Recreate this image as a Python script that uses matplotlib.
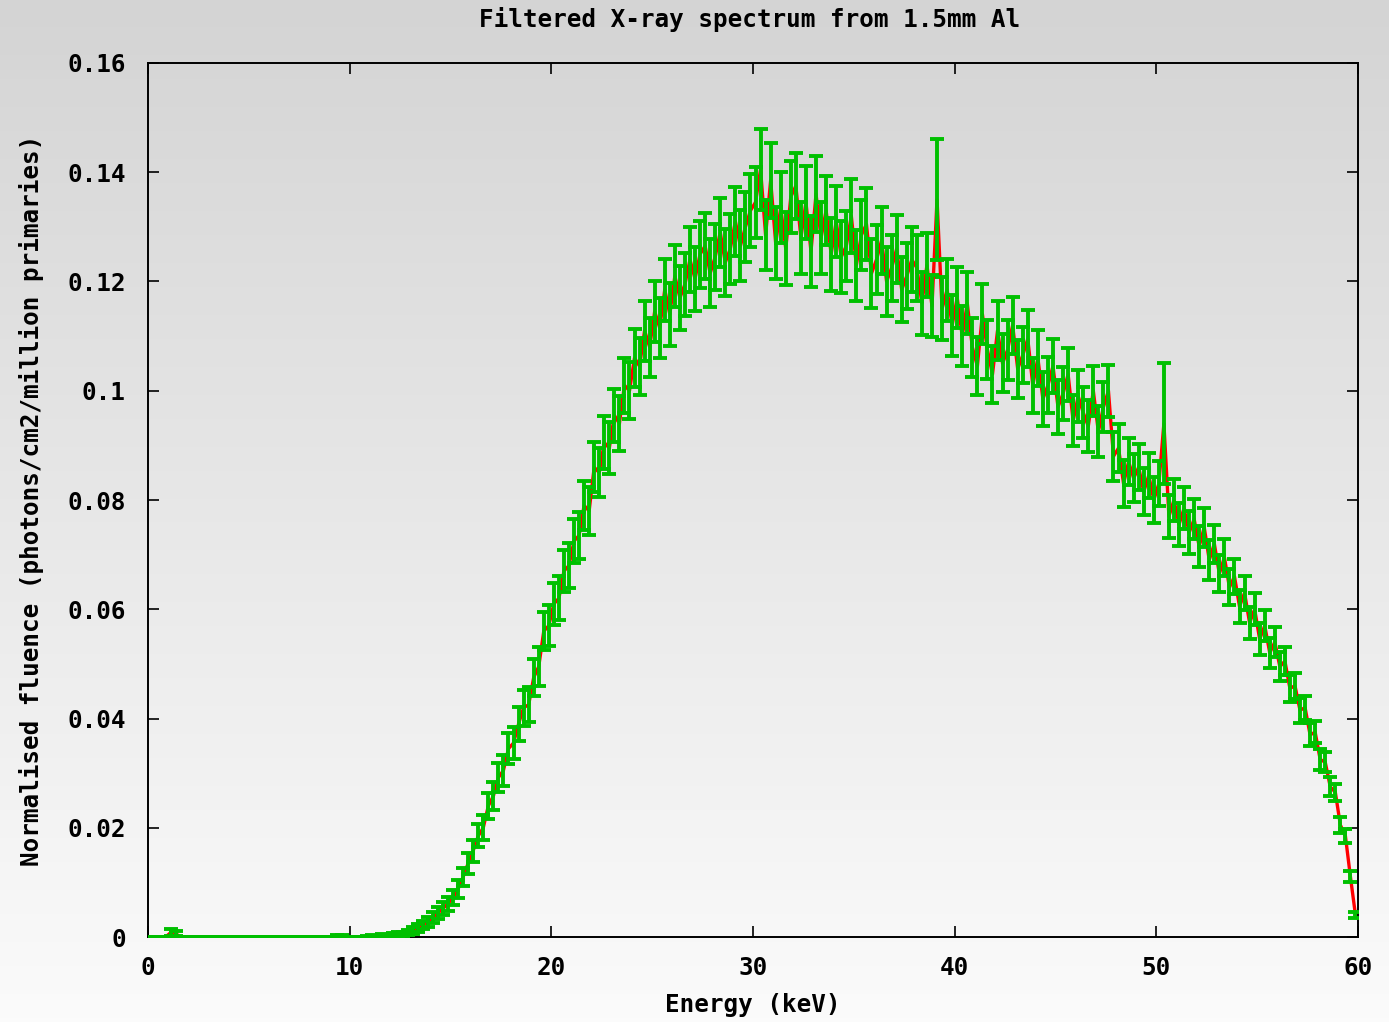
import numpy as np
import matplotlib
matplotlib.use("Agg")
import matplotlib.pyplot as plt

# Energy bin centres (keV), 0.25 keV bins
energy = np.arange(240) * 0.25 + 0.125

fluence = [
    0, 0, 0, 0, 0.0008, 0.0006, 0, 0,
    0, 0, 0, 0, 0, 0, 0, 0,
    0, 0, 0, 0, 0, 0, 0, 0,
    0, 0, 0, 0, 0, 0, 0, 0,
    0, 0, 0, 0, 0, 0.0002, 0.0002, 0,
    0, 0, 0, 0.0001, 0.0002, 0.0001, 0.0003, 0.0002,
    0.0004, 0.0006, 0.0005, 0.0008, 0.0012, 0.0016, 0.0022, 0.0028,
    0.0035, 0.0044, 0.0052, 0.0061, 0.0072, 0.0088, 0.0110, 0.0135,
    0.0158, 0.0185, 0.0200, 0.0240, 0.0258, 0.0292, 0.0305, 0.0345,
    0.0355, 0.0390, 0.0420, 0.0425, 0.0475, 0.0495, 0.0560, 0.0570,
    0.0610, 0.0620, 0.0670, 0.0680, 0.0725, 0.0735, 0.0790, 0.0780,
    0.0860, 0.0850, 0.0905, 0.0895, 0.0955, 0.0940, 0.1010, 0.1000,
    0.1060, 0.1045, 0.1110, 0.1080, 0.1145, 0.1115, 0.1185, 0.1140,
    0.1210, 0.1170, 0.1195, 0.1240, 0.1205, 0.1250, 0.1265, 0.1215,
    0.1245, 0.1290, 0.1235, 0.1260, 0.1310, 0.1265, 0.1300, 0.1330,
    0.1345, 0.1405, 0.1285, 0.1385, 0.1270, 0.1335, 0.1260, 0.1355,
    0.1375, 0.1280, 0.1345, 0.1255, 0.1360, 0.1280, 0.1330, 0.1250,
    0.1310, 0.1245, 0.1265, 0.1320, 0.1230, 0.1285, 0.1305, 0.1215,
    0.1240, 0.1275, 0.1200, 0.1225, 0.1260, 0.1185, 0.1210, 0.1240,
    0.1225, 0.1160, 0.1230, 0.1155, 0.1350, 0.1150, 0.1185, 0.1120,
    0.1170, 0.1100, 0.1160, 0.1080, 0.1045, 0.1140, 0.1075, 0.1030,
    0.1110, 0.1050, 0.1075, 0.1120, 0.1040, 0.1065, 0.1095, 0.1010,
    0.1060, 0.0985, 0.1010, 0.1045, 0.0970, 0.0995, 0.1030, 0.0945,
    0.0990, 0.0960, 0.0935, 0.1000, 0.0925, 0.0970, 0.1000, 0.0880,
    0.0895, 0.0830, 0.0870, 0.0840, 0.0860, 0.0815, 0.0845, 0.0800,
    0.0830, 0.0940, 0.0770, 0.0800, 0.0755, 0.0785, 0.0740, 0.0765,
    0.0715, 0.0750, 0.0690, 0.0720, 0.0665, 0.0695, 0.0640, 0.0660,
    0.0605, 0.0630, 0.0575, 0.0600, 0.0545, 0.0570, 0.0520, 0.0540,
    0.0495, 0.0505, 0.0455, 0.0460, 0.0415, 0.0420, 0.0370, 0.0375,
    0.0325, 0.0320, 0.0275, 0.0265, 0.0205, 0.0185, 0.0110, 0.0040,
]

fluence_err = [
    0, 0, 0, 0, 0.0006, 0.0005, 0, 0,
    0, 0, 0, 0, 0, 0, 0, 0,
    0, 0, 0, 0, 0, 0, 0, 0,
    0, 0, 0, 0, 0, 0, 0, 0,
    0, 0, 0, 0, 0, 0.0002, 0.0002, 0,
    0, 0, 0, 0.0001, 0.0002, 0.0001, 0.0002, 0.0002,
    0.0003, 0.0004, 0.0004, 0.0005, 0.0006, 0.0007, 0.0008, 0.0009,
    0.0010, 0.0011, 0.0012, 0.0013, 0.0014, 0.0016, 0.0017, 0.0019,
    0.0020, 0.0021, 0.0023, 0.0024, 0.0025, 0.0026, 0.0028, 0.0029,
    0.0030, 0.0031, 0.0033, 0.0032, 0.0034, 0.0036, 0.0035, 0.0038,
    0.0038, 0.0040, 0.0039, 0.0042, 0.0041, 0.0043, 0.0045, 0.0044,
    0.0046, 0.0045, 0.0048, 0.0047, 0.0049, 0.0051, 0.0050, 0.0052,
    0.0053, 0.0052, 0.0055, 0.0054, 0.0056, 0.0055, 0.0057, 0.0058,
    0.0057, 0.0059, 0.0058, 0.0060, 0.0059, 0.0061, 0.0060, 0.0062,
    0.0061, 0.0063, 0.0062, 0.0064, 0.0063, 0.0065, 0.0064, 0.0066,
    0.0065, 0.0075, 0.0064, 0.0068, 0.0066, 0.0065, 0.0067, 0.0066,
    0.0060, 0.0066, 0.0067, 0.0065, 0.0070, 0.0066, 0.0064, 0.0067,
    0.0065, 0.0066, 0.0064, 0.0068, 0.0065, 0.0064, 0.0066, 0.0063,
    0.0063, 0.0062, 0.0064, 0.0061, 0.0062, 0.0060, 0.0061, 0.0059,
    0.0060, 0.0058, 0.0059, 0.0057, 0.0110, 0.0058, 0.0057, 0.0056,
    0.0056, 0.0055, 0.0057, 0.0054, 0.0053, 0.0055, 0.0054, 0.0052,
    0.0054, 0.0053, 0.0055, 0.0052, 0.0053, 0.0051, 0.0052, 0.0050,
    0.0051, 0.0050, 0.0051, 0.0049, 0.0050, 0.0048, 0.0049, 0.0047,
    0.0048, 0.0047, 0.0048, 0.0046, 0.0047, 0.0046, 0.0048, 0.0045,
    0.0044, 0.0043, 0.0043, 0.0044, 0.0042, 0.0043, 0.0041, 0.0042,
    0.0041, 0.0110, 0.0040, 0.0039, 0.0040, 0.0038, 0.0039, 0.0037,
    0.0037, 0.0036, 0.0036, 0.0035, 0.0034, 0.0034, 0.0033, 0.0032,
    0.0031, 0.0031, 0.0030, 0.0029, 0.0029, 0.0028, 0.0027, 0.0027,
    0.0026, 0.0025, 0.0024, 0.0024, 0.0023, 0.0022, 0.0021, 0.0020,
    0.0019, 0.0018, 0.0017, 0.0016, 0.0015, 0.0013, 0.0010, 0.0006,
]

x_ticks = [0, 10, 20, 30, 40, 50, 60]
y_ticks = [0, 0.02, 0.04, 0.06, 0.08, 0.1, 0.12, 0.14, 0.16]
y_tick_labels = ["0", "0.02", "0.04", "0.06", "0.08", "0.1", "0.12", "0.14", "0.16"]

title = "Filtered X-ray spectrum from 1.5mm Al"
xlabel = "Energy (keV)"
ylabel = "Normalised fluence (photons/cm2/million primaries)"

W, H = 1389, 1022
fig = plt.figure(figsize=(W / 100, H / 100), dpi=100)

# gradient background over the whole figure
bg = fig.add_axes([0, 0, 1, 1], zorder=-10)
grad = np.linspace(212, 251, 256)[:, None] / 255.0
img = np.dstack([grad, grad, grad])
bg.imshow(img, aspect="auto", extent=[0, 1, 0, 1], origin="upper")
bg.set_axis_off()

L, R, T, B = 148, 1358, 63, 937
ax = fig.add_axes([L / W, 1 - B / H, (R - L) / W, (B - T) / H])
ax.patch.set_alpha(0)

font = dict(family="DejaVu Sans Mono", weight="bold", size=17.5)

ax.plot(energy, fluence, color="#ff0000", lw=2.4, zorder=2)
ax.errorbar(energy, fluence, yerr=fluence_err, fmt="none", ecolor="#00c000",
            elinewidth=2.8, capsize=4.8, capthick=2.8, zorder=3)

ax.set_xlim(0, 60)
ax.set_ylim(0, 0.16)
ax.set_xticks(x_ticks)
ax.set_xticklabels([str(t) for t in x_ticks], **font)
ax.set_yticks(y_ticks)
ax.set_yticklabels(y_tick_labels, **font)
ax.tick_params(direction="in", length=8, width=1.2, top=True, right=True,
               colors="black")
ax.tick_params(axis="x", pad=14)
ax.tick_params(axis="y", pad=16)
for s in ax.spines.values():
    s.set_linewidth(1.4)

ax.set_xlabel(xlabel, labelpad=9, **font)
ax.set_ylabel(ylabel, labelpad=17, **font)
fig.text(750 / W, 1 - 20 / H, title, ha="center", va="center", **font)

fig.savefig("out.png", dpi=100)
